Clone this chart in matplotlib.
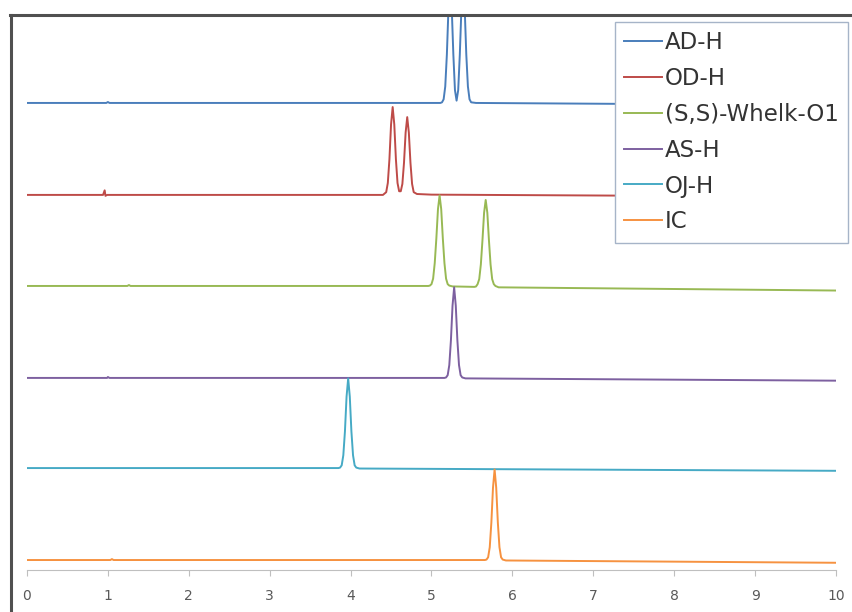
import matplotlib.pyplot as plt
from matplotlib.lines import Line2D

# chromatograms, time in min, signal in units of the trace spacing
names = ['AD-H', 'OD-H', '(S,S)-Whelk-O1', 'AS-H', 'OJ-H', 'IC']
colors = ['#4A7EBB', '#BE4B48', '#98B954', '#7D60A0', '#46AAC5', '#F69240']
offsets = [4.995, 3.99, 2.995, 1.99, 1.005, 0.0]

ad_t = [0.0, 0.98, 1.00, 1.02, 5.05, 5.11, 5.13, 5.15, 5.17, 5.19, 5.21, 5.23, 5.25, 5.27,
        5.29, 5.31, 5.33, 5.35, 5.37, 5.39, 5.41, 5.43, 5.45, 5.47, 5.49, 5.55, 10.0]
ad_y = [0.0, 0.0, 0.01, 0.0, 0.0, 0.0, 0.007, 0.04, 0.18, 0.53, 1.04, 1.30, 1.04, 0.53,
        0.14, 0.025, 0.14, 0.53, 1.04, 1.30, 1.04, 0.53, 0.18, 0.04, 0.007, 0.0, -0.025]

od_t = [0.0, 0.94, 0.96, 0.97, 0.99, 4.40, 4.44, 4.46, 4.48, 4.50, 4.52, 4.54, 4.56, 4.58,
        4.60, 4.62, 4.64, 4.66, 4.68, 4.70, 4.72, 4.74, 4.76, 4.78, 4.82, 5.00, 10.0]
od_y = [0.0, 0.0, 0.05, -0.01, 0.0, 0.0, 0.03, 0.13, 0.39, 0.77, 0.96, 0.77, 0.39, 0.13,
        0.04, 0.04, 0.12, 0.35, 0.68, 0.85, 0.68, 0.35, 0.12, 0.03, 0.01, 0.003, -0.02]

wh_t = [0.0, 1.24, 1.26, 1.28, 4.96, 4.98, 5.00, 5.02, 5.04, 5.06, 5.08, 5.10, 5.12, 5.14,
        5.16, 5.18, 5.20, 5.22, 5.26, 5.53, 5.55, 5.57, 5.59, 5.61, 5.63, 5.65, 5.67, 5.69,
        5.71, 5.73, 5.75, 5.77, 5.79, 5.83, 10.0]
wh_y = [0.0, 0.0, 0.01, 0.0, 0.0, 0.004, 0.02, 0.08, 0.25, 0.52, 0.84, 0.99, 0.84, 0.52,
        0.25, 0.08, 0.02, 0.004, -0.005, -0.01, -0.006, 0.02, 0.075, 0.235, 0.50, 0.80, 0.94,
        0.80, 0.50, 0.235, 0.075, 0.02, 0.0, -0.015, -0.05]

as_t = [0.0, 0.99, 1.00, 1.02, 5.16, 5.18, 5.20, 5.22, 5.24, 5.26, 5.28, 5.30, 5.32, 5.34,
        5.36, 5.38, 5.42, 10.0]
as_y = [0.0, 0.0, 0.01, 0.0, 0.0, 0.005, 0.03, 0.14, 0.41, 0.79, 0.99, 0.79, 0.41, 0.14,
        0.03, 0.005, -0.005, -0.03]

oj_t = [0.0, 3.85, 3.87, 3.89, 3.91, 3.93, 3.95, 3.97, 3.99, 4.01, 4.03, 4.05, 4.07, 4.11,
        10.0]
oj_y = [0.0, 0.0, 0.005, 0.03, 0.14, 0.40, 0.78, 0.98, 0.78, 0.40, 0.14, 0.03, 0.005,
        -0.005, -0.03]

ic_t = [0.0, 1.03, 1.05, 1.07, 5.66, 5.68, 5.70, 5.72, 5.74, 5.76, 5.78, 5.80, 5.82, 5.84,
        5.86, 5.88, 5.92, 10.0]
ic_y = [0.0, 0.0, 0.01, 0.0, 0.0, 0.005, 0.03, 0.14, 0.41, 0.79, 0.99, 0.79, 0.41, 0.14,
        0.03, 0.005, -0.005, -0.03]

times = [ad_t, od_t, wh_t, as_t, oj_t, ic_t]
signals = [ad_y, od_y, wh_y, as_y, oj_y, ic_y]

fig = plt.figure(figsize=(8.53, 6.12), dpi=100)
ax = fig.add_axes([27/853, 42/612, 809/853, 556/612])

for t, y, off, c, name in zip(times, signals, offsets, colors, names):
    ax.plot(t, [v + off for v in y], color=c, lw=1.4, label=name)

ax.set_xlim(0, 10)
ax.set_ylim(-0.109, 5.967)
ax.set_xticks(range(11))
ax.set_yticks([])
for s in ['left', 'right', 'top']:
    ax.spines[s].set_visible(False)
ax.spines['bottom'].set_color('#BFBFBF')
ax.tick_params(axis='x', direction='out', length=4, color='#BFBFBF',
               labelcolor='#595959', labelsize=10, pad=10)

fig.legend(loc='upper right', bbox_to_anchor=(848/853, 1 - 22/612), fancybox=False,
           edgecolor='#A6B4C8', framealpha=1, fontsize=16.5, labelcolor='#333333',
           handlelength=1.65, handletextpad=0.15, labelspacing=0.56, borderpad=0.4,
           borderaxespad=0)

# dark frame of the screenshot
fig.add_artist(Line2D([11.5/853, 11.5/853], [0, 1 - 14.5/612], transform=fig.transFigure,
                      color='#505050', lw=2.2))
fig.add_artist(Line2D([10/853, 1], [1 - 14.5/612, 1 - 14.5/612], transform=fig.transFigure,
                      color='#505050', lw=2.2))

fig.savefig('out.png', dpi=100)
